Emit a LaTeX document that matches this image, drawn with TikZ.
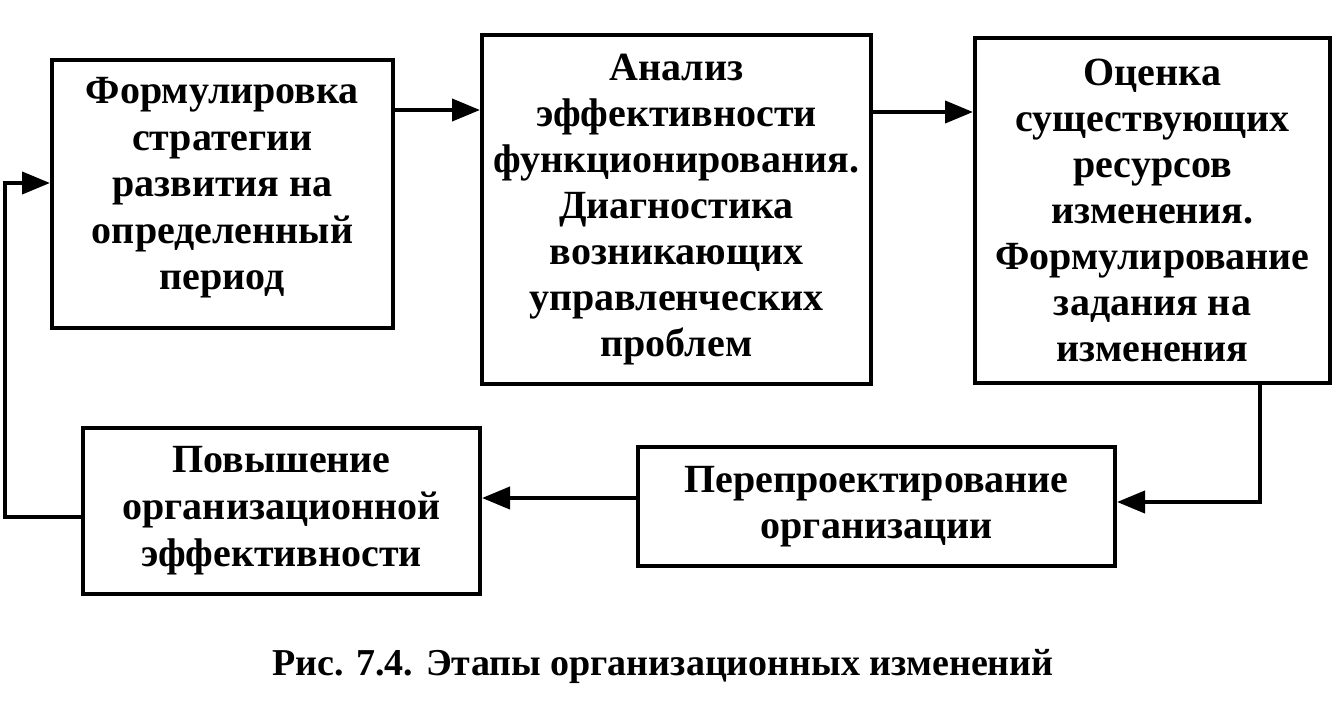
\documentclass[tikz,border=0pt]{standalone}
\usepackage{fontspec}
\setmainfont{Liberation Serif}
\usetikzlibrary{arrows.meta}
\begin{document}
\begin{tikzpicture}[x=1pt,y=-1pt,
  box/.style={draw,line width=4pt,inner sep=0pt,align=center,
    font=\bfseries\fontsize{40}{46}\selectfont},
  arr/.style={line width=4pt,-{Triangle[length=28pt,width=22pt]}}]
\useasboundingbox (0,0) rectangle (1338,704);
\node[box,minimum width=341pt,minimum height=268pt,text depth=21pt,
  font=\bfseries\fontsize{40}{46.5}\selectfont] (b1) at (222.5,194)
  {Формулировка\\стратегии\\развития на\\определенный\\период};
\node[box,minimum width=389pt,minimum height=349pt] (b2) at (676.5,209.5)
  {Анализ\\эффективности\\функционирования.\\Диагностика\\возникающих\\управленческих\\проблем};
\node[box,minimum width=355pt,minimum height=345pt] (b3) at (1152.5,210.5)
  {Оценка\\существующих\\ресурсов\\изменения.\\Формулирование\\задания на\\изменения};
\node[box,minimum width=397pt,minimum height=166pt,
  font=\bfseries\fontsize{40}{47}\selectfont] (b4) at (281.5,511)
  {Повышение\\организационной\\эффективности};
\node[box,minimum width=477pt,minimum height=119pt] (b5) at (876.5,506.5)
  {Перепроектирование\\организации};
\node[font=\bfseries\fontsize{38}{44}\selectfont,inner sep=0pt] (cap) at (663,666)
  {Рис. 7.4. Этапы организационных изменений};
\coordinate (y1) at (0,110);
\coordinate (y2) at (0,112);
\coordinate (x3) at (1260,0);
\coordinate (y3) at (0,502);
\coordinate (y4) at (0,498);
\coordinate (y5) at (0,517);
\coordinate (y6) at (0,183);
\coordinate (x6) at (5,0);
\draw[arr] (b1.east |- y1) -- (b2.west |- y1);
\draw[arr] (b2.east |- y2) -- (b3.west |- y2);
\draw[arr] (b3.south -| x3) -- (x3 |- y3) -- (b5.east |- y3);
\draw[arr] (b5.west |- y4) -- (b4.east |- y4);
\draw[arr] (b4.west |- y5) -- (x6 |- y5) -- (x6 |- y6) -- (b1.west |- y6);
\end{tikzpicture}
\end{document}
